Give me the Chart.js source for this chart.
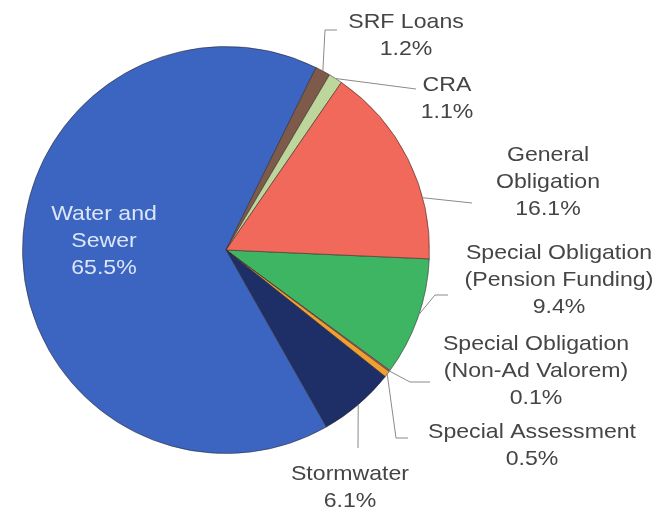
<!DOCTYPE html>
<html>
<head>
<meta charset="utf-8">
<script src="https://cdn.jsdelivr.net/npm/chart.js@4"></script>
<style>
  body { margin: 0; background: #fff; }
  #wrap { width: 667px; height: 512px; position: relative; }
</style>
</head>
<body>
<div id="wrap"><canvas id="debtChart"></canvas></div>
<script>
// Slices listed clockwise, starting just below 3 o'clock
const categories = [
    'Special Obligation (Pension Funding)',
    'Special Obligation (Non-Ad Valorem)',
    'Special Assessment',
    'Stormwater',
    'Water and Sewer',
    'SRF Loans',
    'CRA',
    'General Obligation'
];
const shares = [9.4, 0.1, 0.5, 6.1, 65.5, 1.2, 1.1, 16.1];
const labelLines = [
    ['Special Obligation', '(Pension Funding)'],
    ['Special Obligation', '(Non-Ad Valorem)'],
    ['Special Assessment'],
    ['Stormwater'],
    ['Water and', 'Sewer'],
    ['SRF Loans'],
    ['CRA'],
    ['General', 'Obligation']
];
const sliceColors = ['#3db563', '#d9577f', '#f0a030', '#1d2f66', '#3b65c1', '#7d5a4a', '#bcd69c', '#f0695a'];

// label placement: text centre x, first line y, anchor fraction along slice, leader elbows
const labelLayout = [
    { x: 559, y: 253, t: 0.47, path: [[435, 295], [448, 295]] },
    { x: 536, y: 344, t: 0.5, path: [[410, 382], [430, 382]] },
    { x: 532, y: 432, t: 0.5, path: [[396, 438], [408, 438]] },
    { x: 350, y: 474, t: 0.5, path: [[358, 448]] },
    { x: 104, y: 214, inside: true },
    { x: 406, y: 22, t: 0.5, path: [[325, 30], [337, 30]] },
    { x: 447, y: 85, t: 0.5, path: [[416, 89]] },
    { x: 548, y: 155, t: 0.7, path: [[472, 203]] }
];

const pieLabels = {
    id: 'pieLabels',
    afterDraw(chart) {
        const ctx = chart.ctx;
        const arcs = chart.getDatasetMeta(0).data;
        ctx.save();
        arcs.forEach((arc, i) => {
            const lay = labelLayout[i];
            if (!lay.inside) {
                const a = arc.startAngle + (arc.endAngle - arc.startAngle) * lay.t;
                ctx.beginPath();
                ctx.moveTo(arc.x + Math.cos(a) * arc.outerRadius, arc.y + Math.sin(a) * arc.outerRadius);
                lay.path.forEach(p => ctx.lineTo(p[0], p[1]));
                ctx.strokeStyle = '#8a8a8a';
                ctx.lineWidth = 1;
                ctx.stroke();
            }
            const lines = labelLines[i].concat([shares[i].toFixed(1) + '%']);
            ctx.font = '21px "Liberation Sans", Arial, sans-serif';
            ctx.textAlign = 'center';
            ctx.textBaseline = 'middle';
            ctx.fillStyle = lay.inside ? '#dce6f7' : '#454545';
            lines.forEach((line, k) => {
                ctx.save();
                ctx.translate(lay.x, lay.y + k * 27);
                ctx.scale(1.1, 1);
                ctx.fillText(line, 0, 0);
                ctx.restore();
            });
        });
        ctx.restore();
    }
};

const debtCtx = document.getElementById('debtChart').getContext('2d');
new Chart(debtCtx, {
    type: 'pie',
    data: {
        labels: categories,
        datasets: [{
            data: shares,
            backgroundColor: sliceColors,
            borderColor: 'rgba(50,40,40,0.55)',
            borderWidth: 1
        }]
    },
    options: {
        responsive: true,
        maintainAspectRatio: false,
        animation: false,
        rotation: 92.5,
        layout: {
            padding: { left: 22, right: 237, top: 46, bottom: 58 }
        },
        plugins: {
            legend: { display: false },
            tooltip: { enabled: false }
        }
    },
    plugins: [pieLabels]
});
</script>
</body>
</html>
